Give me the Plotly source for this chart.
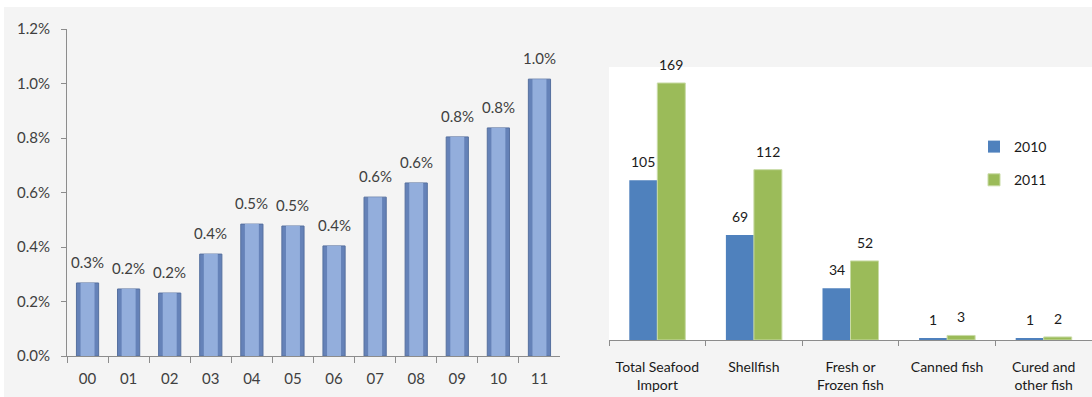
import plotly.graph_objects as go

W, H = 1092, 397

# ---- data: left chart ----
years = ["00", "01", "02", "03", "04", "05", "06", "07", "08", "09", "10", "11"]
share = [0.00268, 0.00246, 0.00231, 0.00374, 0.00484, 0.00477, 0.00404,
         0.00583, 0.00635, 0.00804, 0.00837, 0.01016]
left_ticks = [0, 0.002, 0.004, 0.006, 0.008, 0.010, 0.012]

# ---- data: right chart ----
categories = ["Total Seafood<br>Import", "Shellfish", "Fresh or<br>Frozen fish",
              "Canned fish", "Cured and<br>other fish"]
v2010 = [105, 69, 34, 1, 1]
v2011 = [169, 112, 52, 3, 2]

FONT = "Lato, 'Open Sans', sans-serif"

def px_x(p):
    return p / W

def px_y(p):
    return 1 - p / H

fig = go.Figure()

# left chart: outer (darker) bar + inner highlight to mimic cylinder look
fig.add_trace(go.Bar(
    x=years, y=share, xaxis="x", yaxis="y",
    width=0.54, offset=-0.27,
    marker=dict(color="#6582b8", line=dict(color="#56709f", width=1)),
    showlegend=False, hoverinfo="x+y",
))
fig.add_trace(go.Bar(
    x=years, y=share, xaxis="x", yaxis="y",
    width=0.34, offset=-0.17,
    marker=dict(color="#93aedc", line=dict(width=0)),
    showlegend=False, hoverinfo="skip",
))

# right chart
fig.add_trace(go.Bar(
    x=categories, y=v2010, xaxis="x2", yaxis="y2", name="2010",
    marker=dict(color="#4f81bd", line=dict(width=0)),
    legendgroup="a",
))
fig.add_trace(go.Bar(
    x=categories, y=v2011, xaxis="x2", yaxis="y2", name="2011",
    marker=dict(color="#9bbb59", line=dict(color="#c9dba6", width=1)),
    legendgroup="b",
))

annotations = []
for cat, val in zip(years, share):
    annotations.append(dict(
        x=cat, y=val, xref="x", yref="y", text=f"{val:.1%}",
        showarrow=False, yanchor="bottom", yshift=10,
        font=dict(family=FONT, size=15, color="#404040"),
    ))
for cat, a, b in zip(categories, v2010, v2011):
    for val, dx in ((a, -14), (b, 14)):
        annotations.append(dict(
            x=cat, y=val, xref="x2", yref="y2", text=str(val),
            showarrow=False, yanchor="bottom", yshift=8, xshift=dx,
            font=dict(family=FONT, size=14, color="#1a1a1a"),
        ))

axis_line = "#8c8c8c"

fig.update_layout(
    width=W, height=H,
    margin=dict(l=0, r=0, t=0, b=0, autoexpand=False),
    paper_bgcolor="#f4f4f4",
    plot_bgcolor="rgba(0,0,0,0)",
    barmode="group", bargap=0.42, bargroupgap=0,
    font=dict(family=FONT),
    annotations=annotations,
    xaxis=dict(
        domain=[px_x(67), px_x(560)], anchor="y", automargin=False,
        type="category", showline=True, linecolor=axis_line, linewidth=1,
        ticks="outside", tickson="boundaries", ticklen=6, tickcolor=axis_line,
        ticklabelstandoff=9,
        tickfont=dict(family=FONT, size=15, color="#404040"),
        showgrid=False, zeroline=False, fixedrange=True,
    ),
    yaxis=dict(
        domain=[px_y(356), px_y(29)], anchor="x", automargin=False,
        range=[0, 0.012], tickvals=left_ticks, tickformat=".1%",
        showline=True, linecolor=axis_line, linewidth=1,
        ticks="outside", ticklen=5, tickcolor=axis_line,
        ticklabelstandoff=8,
        tickfont=dict(family=FONT, size=15, color="#404040"),
        showgrid=False, zeroline=False, fixedrange=True,
    ),
    xaxis2=dict(
        domain=[px_x(609), 1.0], anchor="y2", automargin=False,
        type="category", showline=True, linecolor=axis_line, linewidth=1,
        ticks="outside", tickson="boundaries", ticklen=5, tickcolor=axis_line,
        ticklabelstandoff=14,
        tickfont=dict(family=FONT, size=14, color="#1a1a1a"),
        showgrid=False, zeroline=False, fixedrange=True,
    ),
    yaxis2=dict(
        domain=[px_y(340), px_y(67)], anchor="x2", automargin=False,
        range=[0, 179.5], visible=False, fixedrange=True,
    ),
    legend=dict(
        x=px_x(974), y=px_y(131), xanchor="left", yanchor="top",
        bgcolor="rgba(0,0,0,0)", tracegroupgap=12,
        font=dict(family=FONT, size=14, color="#1a1a1a"),
    ),
    shapes=[
        # white strip on top and left edge
        dict(type="rect", xref="paper", yref="paper", x0=0, x1=1, y0=px_y(7), y1=1,
             fillcolor="white", line=dict(width=0), layer="below"),
        dict(type="rect", xref="paper", yref="paper", x0=0, x1=px_x(4), y0=0, y1=1,
             fillcolor="white", line=dict(width=0), layer="below"),
        # white plot area of right chart
        dict(type="rect", xref="paper", yref="paper", x0=px_x(609), x1=1,
             y0=px_y(340), y1=px_y(67),
             fillcolor="white", line=dict(width=0), layer="below"),
    ],
)

fig.write_html(
    "out.html",
    config={"displayModeBar": False},
    post_script="document.body.style.margin='0';document.body.style.overflow='hidden';",
)
